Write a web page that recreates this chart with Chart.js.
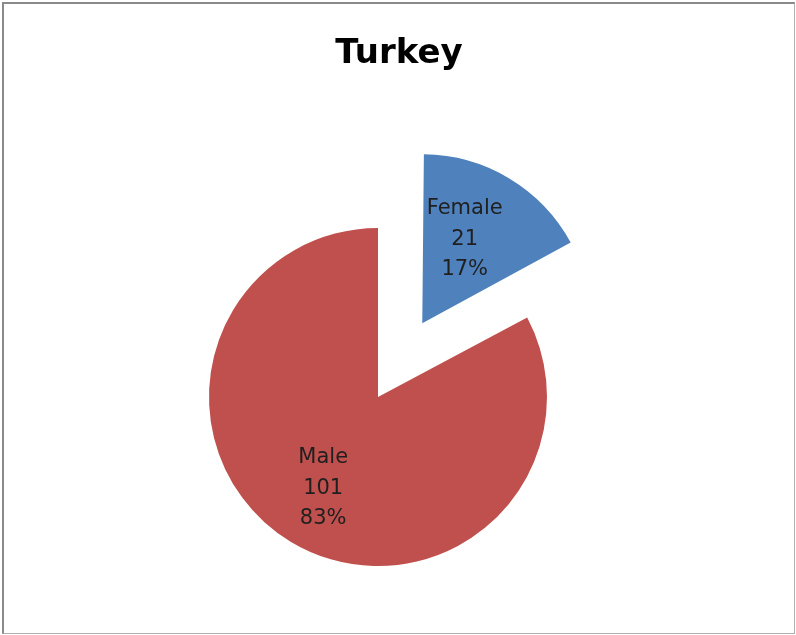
<!DOCTYPE html>
<html>
<head>
<meta charset="utf-8">
<script src="https://cdn.jsdelivr.net/npm/chart.js@4/dist/chart.umd.min.js"></script>
<style>
  html, body { margin: 0; padding: 0; background: #fff; }
  #wrap { position: relative; width: 796px; height: 635px; }
  #pieChart { position: absolute; left: 0; top: 0; }
  #title {
    position: absolute; left: 0; top: 31px; width: 798px;
    text-align: center; font: bold 34px/40px "DejaVu Sans", sans-serif; color: #000;
  }
  #frame {
    position: absolute; left: 2px; top: 2px; width: 790px; height: 629px;
    border-left: 2px solid #8a8a8a; border-top: 2px solid #8a8a8a;
    border-right: 1px solid #b0b0b0; border-bottom: 1px solid #b0b0b0;
    pointer-events: none;
  }
</style>
</head>
<body>
<div id="wrap">
  <canvas id="pieChart" width="796" height="635"></canvas>
  <div id="title">Turkey</div>
  <div id="frame"></div>
</div>
<script>
const categories = ['Female', 'Male'];
const counts = [21, 101];
const percents = ['17%', '83%'];
const sliceColors = ['#4F81BD', '#C0504D'];
const explode = [344, 0]; // chart.js divides offset by 4

// keep exploded slice the same radius as the rest
const keepRadius = {
    id: 'keepRadius',
    afterDatasetUpdate(chart, args) {
        args.meta.data.forEach(arc => {
            const off = (arc.options.offset || 0) / 4;
            const fix = 1 - Math.sin(Math.min(Math.PI, arc.circumference));
            arc.outerRadius -= off * fix;
        });
    }
};

const labelFrac = [0.58, 0.63];

const sliceLabels = {
    id: 'sliceLabels',
    afterDatasetsDraw(chart) {
        const meta = chart.getDatasetMeta(0);
        const c = chart.ctx;
        const R = meta.controller.outerRadius;
        c.save();
        c.font = '21px "DejaVu Sans", sans-serif';
        c.fillStyle = '#1f1f1f';
        c.textAlign = 'center';
        c.textBaseline = 'middle';
        meta.data.forEach((arc, i) => {
            const mid = (arc.startAngle + arc.endAngle) / 2;
            const off = (arc.options.offset || 0) / 4;
            const r = off + R * labelFrac[i];
            const x = arc.x + Math.cos(mid) * r - (i === 0 ? 8 : 0);
            const y = arc.y + Math.sin(mid) * r;
            const lines = [categories[i], String(counts[i]), percents[i]];
            lines.forEach((t, k) => c.fillText(t, x, y + (k - 1) * 30.5));
        });
        c.restore();
    }
};

new Chart(document.getElementById('pieChart'), {
    type: 'pie',
    data: {
        labels: categories,
        datasets: [{
            data: counts,
            backgroundColor: sliceColors,
            borderWidth: 0,
            offset: explode
        }]
    },
    options: {
        responsive: false,
        animation: false,
        events: [],
        radius: 169,
        layout: { padding: { left: 0, right: 40, top: 159, bottom: 0 } },
        plugins: {
            legend: { display: false },
            tooltip: { enabled: false },
            title: { display: false }
        }
    },
    plugins: [keepRadius, sliceLabels]
});
</script>
</body>
</html>
